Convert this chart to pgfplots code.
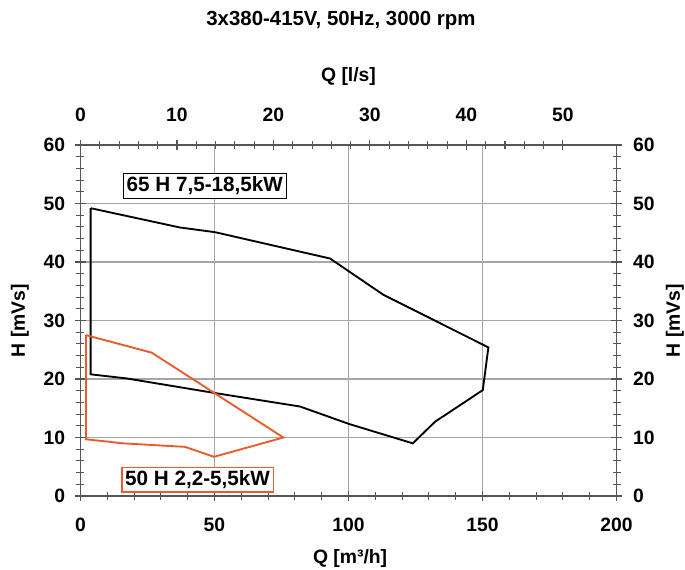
\documentclass[border=0pt]{standalone}
\usepackage{fontspec}
\setmainfont{Liberation Sans}
\usepackage{pgfplots}
\pgfplotsset{compat=1.18}
\definecolor{pumporange}{RGB}{232,92,44}
\definecolor{axisgray}{RGB}{85,85,85}

\begin{document}
\begin{tikzpicture}
\pgfplotsset{
  pumpbase/.style={
    scale only axis, width=402pt, height=263.25pt,
    ymin=0, ymax=60,
    ytick={0,10,...,60}, minor y tick num=4,
    tick align=center,
    major tick length=8pt, minor tick length=6pt,
    axis line style={axisgray, line width=1pt},
    tick style={axisgray, line width=0.8pt},
    tick label style={font=\fontsize{14.5}{16}\selectfont\bfseries},
    label style={font=\fontsize{14.5}{17}\selectfont\bfseries},
    /pgf/number format/assume math mode=true,
  }
}
% m3/h axis with the data
\begin{axis}[pumpbase,
  xmin=0, xmax=200,
  xtick={0,50,...,200}, minor x tick num=4,
  xtick pos=bottom, ytick pos=left,
  grid=major,
  major grid style={gray!70, line width=1pt},
  xticklabel style={yshift=-9pt},
  yticklabel style={xshift=-4pt},
  xlabel={Q [m³/h]},
  xlabel style={at={(axis description cs:0.503,-0.177)}, anchor=center},
  ylabel={H [mVs]},
  ylabel style={at={(axis description cs:-0.113,0.5)}, anchor=center},
  title={3x380-415V, 50Hz, 3000 rpm},
  title style={at={(axis description cs:0.486,1.333)}, anchor=center,
    font=\fontsize{15.3}{18}\selectfont\bfseries},
]
% 65 H range
\addplot[black, line width=1.4pt] table {
x y
3.8 49.2
37.1 45.9
50.2 45.1
93.1 40.6
113 34.4
152.2 25.4
150.1 18.1
132.3 12.7
124 9.0
100.3 12.3
81.9 15.3
50.2 17.6
17.2 20.1
3.8 20.8
3.8 49.2
};
% 50 H range
\addplot[pumporange, line width=1.4pt] table {
x y
2.05 27.5
26.6 24.5
75.7 10.0
49.8 6.7
39 8.4
16 9.0
2.05 9.7
2.05 27.5
};
\node[draw=black, line width=1pt, fill=white, inner sep=2.5pt,
  font=\fontsize{15.5}{18}\selectfont\bfseries] at (axis cs:46.4,53.0) {65 H 7,5-18,5kW};
\node[draw=pumporange, line width=1pt, fill=white, inner sep=2.5pt,
  font=\fontsize{15.5}{18}\selectfont\bfseries] at (axis cs:43.7,2.8) {50 H 2,2-5,5kW};
\end{axis}
% l/s axis on top and right
\begin{axis}[pumpbase,
  xmin=0, xmax=55.5556,
  xtick={0,10,...,50}, minor x tick num=4,
  xtick pos=top, ytick pos=right,
  xticklabel pos=upper, yticklabel pos=right,
  xticklabel style={yshift=10pt},
  yticklabel style={xshift=5pt},
  xlabel={Q [l/s]},
  xlabel style={at={(axis description cs:0.5,1.194)}, anchor=center},
  ylabel={H [mVs]},
  ylabel style={at={(axis description cs:1.109,0.5)}, anchor=center},
]
\end{axis}
\pgfresetboundingbox
\path (-60.375pt,-54.75pt) rectangle (453.375pt,372pt);
\end{tikzpicture}
\end{document}
